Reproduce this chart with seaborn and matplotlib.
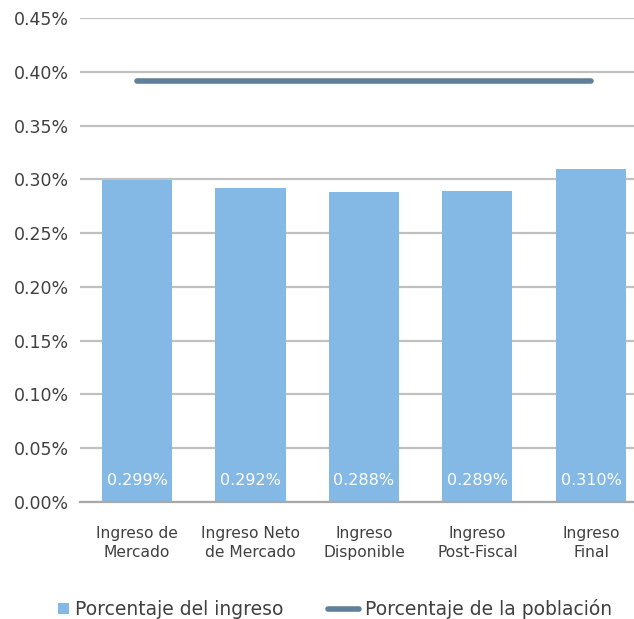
import matplotlib
matplotlib.use("Agg")
import matplotlib.pyplot as plt
import seaborn as sns
import pandas as pd
from matplotlib.patches import Patch, Rectangle
from matplotlib.lines import Line2D
from matplotlib.legend_handler import HandlerPatch
from matplotlib.ticker import FuncFormatter

categorias = ["Ingreso de\nMercado", "Ingreso Neto\nde Mercado", "Ingreso\nDisponible",
              "Ingreso\nPost-Fiscal", "Ingreso\nFinal"]
porcentaje_ingreso = [0.299, 0.292, 0.288, 0.289, 0.310]
porcentaje_poblacion = [0.391, 0.391, 0.391, 0.391, 0.391]
etiquetas = ["0.299%", "0.292%", "0.288%", "0.289%", "0.310%"]
yticks = [0.00, 0.05, 0.10, 0.15, 0.20, 0.25, 0.30, 0.35, 0.40, 0.45]

sns.set_style("white")
plt.rcParams["font.family"] = ["DejaVu Sans"]

bar_color = "#85b9e5"
line_color = "#5f7f9b"
text_color = "#404040"

df = pd.DataFrame({"cat": categorias, "ingreso": porcentaje_ingreso,
                   "poblacion": porcentaje_poblacion, "x": range(len(categorias))})

fig = plt.figure(figsize=(6.34, 6.19), dpi=100)
ax = fig.add_axes([0.1266, 0.189, 0.895, 0.782])

sns.barplot(data=df, x="cat", y="ingreso", color=bar_color, width=0.617,
            saturation=1, ax=ax, zorder=3, linewidth=0)
sns.lineplot(data=df, x="x", y="poblacion", color=line_color, linewidth=4,
             ax=ax, zorder=4, solid_capstyle="round")

for i, lab in enumerate(etiquetas):
    ax.text(i, 0.020, lab, ha="center", va="center", color="white",
            fontsize=11.5, zorder=5)

ax.set_xlim(-0.5, 4.5)
ax.set_ylim(0, 0.45)
ax.set_yticks(yticks)
ax.yaxis.set_major_formatter(FuncFormatter(lambda v, p: f"{v:.2f}%"))
ax.grid(axis="y", color="#c0c0c0", linewidth=1.6, zorder=0)
ax.set_axisbelow(True)
for s in ["top", "right", "left"]:
    ax.spines[s].set_visible(False)
ax.spines["bottom"].set_color("#a8a8a8")
ax.spines["bottom"].set_linewidth(1.6)
ax.spines["bottom"].set_zorder(6)
ax.tick_params(axis="y", length=0, labelsize=12.5, labelcolor=text_color, pad=8)
ax.tick_params(axis="x", length=0, labelsize=11.2, labelcolor=text_color, pad=17)
for t in ax.get_xticklabels():
    t.set_linespacing(1.4)
ax.set_xlabel("")
ax.set_ylabel("")


def square_right(legend, orig_handle, xdescent, ydescent, width, height, fontsize):
    side = 11 * 72 / 100.0
    return Rectangle((width - xdescent - side, -ydescent + (height - side) / 2),
                     side, side)


handles = [Patch(facecolor=bar_color, edgecolor="none"),
           Line2D([0], [0], color=line_color, linewidth=4, solid_capstyle="round")]
fig.legend(handles, ["Porcentaje del ingreso", "Porcentaje de la población"],
           loc="center", bbox_to_anchor=(0.513, 0.016), ncol=2, frameon=False,
           fontsize=13.5, labelcolor=text_color, handlelength=1.65,
           handletextpad=0.3, columnspacing=2.4, borderpad=0.2,
           handler_map={Patch: HandlerPatch(patch_func=square_right)})

fig.savefig("out.png", dpi=100)
